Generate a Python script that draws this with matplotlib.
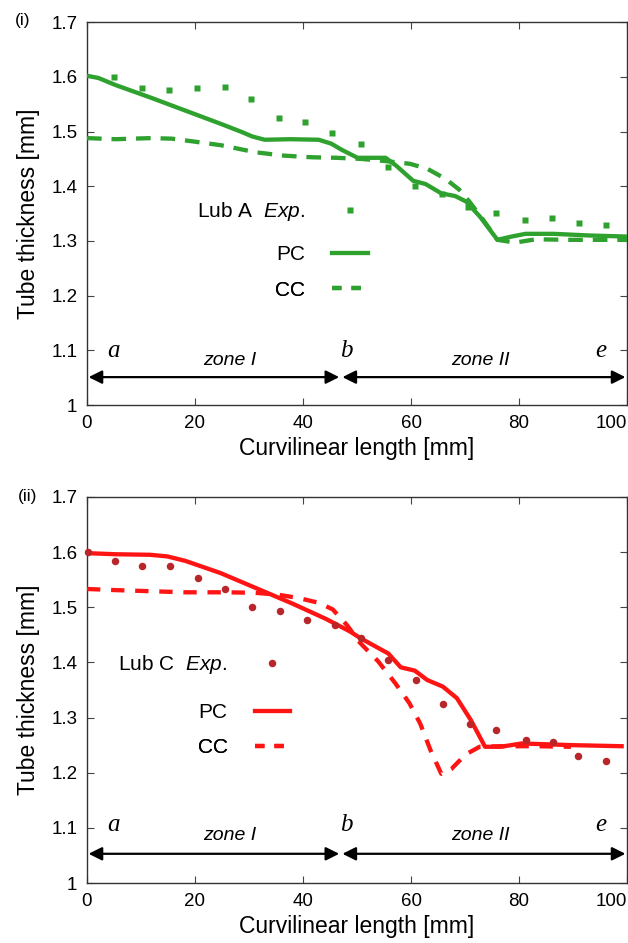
import matplotlib
matplotlib.use("Agg")
import matplotlib.pyplot as plt
from matplotlib.lines import Line2D

plt.rcParams['font.family'] = ['Liberation Sans', 'DejaVu Sans']
plt.rcParams['mathtext.fontset'] = 'custom'
plt.rcParams['mathtext.it'] = 'Liberation Sans:italic'
plt.rcParams['mathtext.rm'] = 'Liberation Sans'

# ---------------- data: panel (i) Lub A ----------------
a_exp_x = [5.0, 10.2, 15.2, 20.4, 25.5, 30.4, 35.5, 40.4, 45.3, 50.8, 55.7, 60.8,
           65.7, 70.6, 75.7, 81.1, 86.1, 91.1, 96.1]
a_exp_y = [1.600, 1.579, 1.576, 1.579, 1.582, 1.559, 1.524, 1.517, 1.498, 1.478, 1.436, 1.400,
           1.385, 1.362, 1.351, 1.339, 1.342, 1.332, 1.330]

a_pc_x = [0, 2.1, 5.3, 11.8, 18.3, 24.8, 28.7, 30.6, 32.9, 37.7, 42.9, 45.2, 47.1, 50.1,
          55.3, 57.2, 60.4, 62.7, 65.6, 68.2, 70.2, 72.8, 76.0, 78.6, 81.2, 86.4, 92.9, 100]
a_pc_y = [1.602, 1.598, 1.585, 1.562, 1.538, 1.514, 1.499, 1.491, 1.485, 1.486, 1.485, 1.478,
          1.467, 1.452, 1.452, 1.438, 1.410, 1.404, 1.387, 1.382, 1.372, 1.344, 1.302, 1.308,
          1.313, 1.313, 1.310, 1.308]

a_cc_x = [0, 5.3, 11.8, 15.7, 19.6, 24.8, 31.3, 36.4, 41.6, 46.2, 50.7, 55.3, 59.8, 63.0,
          66.3, 68.9, 70.8, 73.4, 76.0, 79.3, 83.1, 89.6, 100]
a_cc_y = [1.488, 1.486, 1.488, 1.487, 1.482, 1.475, 1.462, 1.456, 1.453, 1.452, 1.450, 1.446,
          1.441, 1.432, 1.414, 1.394, 1.372, 1.338, 1.302, 1.297, 1.303, 1.302, 1.302]

# ---------------- data: panel (ii) Lub C ----------------
c_exp_x = [0.1, 5.1, 10.1, 15.3, 20.5, 25.6, 30.5, 35.7, 40.7, 45.9, 50.8, 55.8, 61.0,
           66.0, 70.9, 75.8, 81.3, 86.2, 90.9, 96.1]
c_exp_y = [1.600, 1.584, 1.575, 1.575, 1.553, 1.533, 1.500, 1.494, 1.476, 1.468, 1.444, 1.405,
           1.368, 1.325, 1.288, 1.278, 1.260, 1.256, 1.230, 1.221]

c_pc_x = [0, 5.2, 11.7, 14.9, 18.2, 24.7, 31.2, 37.7, 44.2, 48.7, 50.6, 54.5, 55.8, 58.1,
          60.7, 63.0, 65.9, 68.5, 71.1, 73.7, 76.6, 80.5, 89.6, 99.0]
c_pc_y = [1.598, 1.596, 1.595, 1.592, 1.584, 1.562, 1.535, 1.508, 1.479, 1.456, 1.444, 1.423,
          1.416, 1.391, 1.385, 1.368, 1.356, 1.335, 1.295, 1.247, 1.247, 1.253, 1.250, 1.248]

c_cc_x = [0, 5.2, 11.7, 18.2, 26.0, 31.2, 35.1, 39.0, 42.9, 45.5, 48.1, 50.6, 53.9, 57.1,
          59.7, 61.7, 63.6, 65.6, 67.5, 70.1, 72.7, 76.6, 83.1, 89.6]
c_cc_y = [1.533, 1.531, 1.529, 1.527, 1.527, 1.526, 1.523, 1.517, 1.508, 1.496, 1.468, 1.435,
          1.402, 1.362, 1.326, 1.289, 1.241, 1.198, 1.207, 1.233, 1.247, 1.248, 1.248, 1.247]

x_ticks = [0, 20, 40, 60, 80, 100]
y_ticks = [1.0, 1.1, 1.2, 1.3, 1.4, 1.5, 1.6, 1.7]
y_ticklabels = ['1', '1.1', '1.2', '1.3', '1.4', '1.5', '1.6', '1.7']

zone_points = {'a': 0, 'b': 47, 'e': 100}
point_label_x = {'a': 5.0, 'b': 48.0, 'e': 95.2}

GREEN = '#2ea12e'
RED = '#ff1414'
DARKRED = '#b8262a'
LW = 3.1

fig = plt.figure(figsize=(6.28, 9.43), dpi=100)
ax1 = fig.add_axes([0.1385, 0.5705, 0.8600, 0.4060])
ax2 = fig.add_axes([0.1385, 0.0636, 0.8600, 0.4095])


def style_axes(ax):
    ax.set_xlim(0, 100)
    ax.set_ylim(1.0, 1.7)
    ax.set_xticks(x_ticks)
    ax.set_yticks(y_ticks)
    ax.set_yticklabels(y_ticklabels)
    ax.tick_params(direction='in', top=True, right=True, length=5, width=0.8,
                   labelsize=13.5, color='#444444', pad=7)
    ax.get_xticklabels()[-1].set_horizontalalignment('right')
    ax.get_xticklabels()[-1].set_x(100.3)
    for s in ax.spines.values():
        s.set_color('#333333')
        s.set_linewidth(1.0)
    ax.set_xlabel('Curvilinear length [mm]', fontsize=16.5, labelpad=4)
    ax.set_ylabel('Tube thickness [mm]', fontsize=16.5, labelpad=8)


def zones(ax, y_arrow, y_letter, y_zone):
    arr = dict(arrowstyle='<|-|>', color='black', lw=1.6, mutation_scale=20,
               shrinkA=0, shrinkB=0)
    ax.annotate('', xy=(zone_points['b'] - 0.3, y_arrow), xytext=(zone_points['a'] + 0.3, y_arrow),
                arrowprops=arr)
    ax.annotate('', xy=(zone_points['e'] - 0.3, y_arrow), xytext=(zone_points['b'] + 0.3, y_arrow),
                arrowprops=arr)
    for k in ['a', 'b', 'e']:
        ax.text(point_label_x[k], y_letter, k, fontsize=18, style='italic',
                family='Liberation Serif', ha='center', va='center')
    ax.text(26.5, y_zone, 'zone I', fontsize=14, style='italic', ha='center', va='center')
    ax.text(72.8, y_zone, 'zone II', fontsize=14, style='italic', ha='center', va='center')


def legend_rows(ax, handles, labels, xr, ys):
    for h, lab, yy in zip(handles, labels, ys):
        leg = ax.legend([h], [lab], loc='center right', bbox_to_anchor=(xr, yy),
                        frameon=False, markerfirst=False, fontsize=15,
                        handlelength=1.7, handletextpad=1.3, borderaxespad=0,
                        borderpad=0)
        ax.add_artist(leg)


# ---------------- panel (i) ----------------
ax1.plot(a_pc_x, a_pc_y, color=GREEN, lw=LW, solid_joinstyle='round', zorder=3)
ax1.plot(a_cc_x, a_cc_y, color=GREEN, lw=LW, dashes=(3.4, 2.3), zorder=3)
ax1.plot(a_exp_x, a_exp_y, ls='none', marker='s', ms=4.4, color=GREEN, mec='none', zorder=4,
         clip_on=False)
style_axes(ax1)
zones(ax1, 1.051, 1.099, 1.082)
h1 = [Line2D([], [], ls='none', marker='s', ms=4.4, color=GREEN, mec='none'),
      Line2D([], [], color=GREEN, lw=LW),
      Line2D([], [], color=GREEN, lw=LW, dashes=(2.2, 2.3))]
legend_rows(ax1, h1, [r'Lub A  $\mathit{Exp.}$', 'PC', 'CC'], 0.52, [0.505, 0.393, 0.300])
fig.text(0.024, 0.978, '(i)', fontsize=12.5, ha='left', va='center')

# ---------------- panel (ii) ----------------
ax2.plot(c_pc_x, c_pc_y, color=RED, lw=LW, solid_joinstyle='round', zorder=3)
ax2.plot(c_cc_x, c_cc_y, color=RED, lw=LW, dashes=(3.1, 2.5), zorder=3)
ax2.plot(c_exp_x, c_exp_y, ls='none', marker='o', ms=5.4, color=DARKRED, mec='none', zorder=4,
         clip_on=False)
style_axes(ax2)
zones(ax2, 1.053, 1.105, 1.087)
h2 = [Line2D([], [], ls='none', marker='o', ms=5.4, color=DARKRED, mec='none'),
      Line2D([], [], color=RED, lw=LW),
      Line2D([], [], color=RED, lw=LW, dashes=(2.2, 2.3))]
legend_rows(ax2, h2, [r'Lub C  $\mathit{Exp.}$', 'PC', 'CC'], 0.376, [0.565, 0.441, 0.350])
fig.text(0.028, 0.474, '(ii)', fontsize=12.5, ha='left', va='center')

fig.savefig('out.png', dpi=100)
